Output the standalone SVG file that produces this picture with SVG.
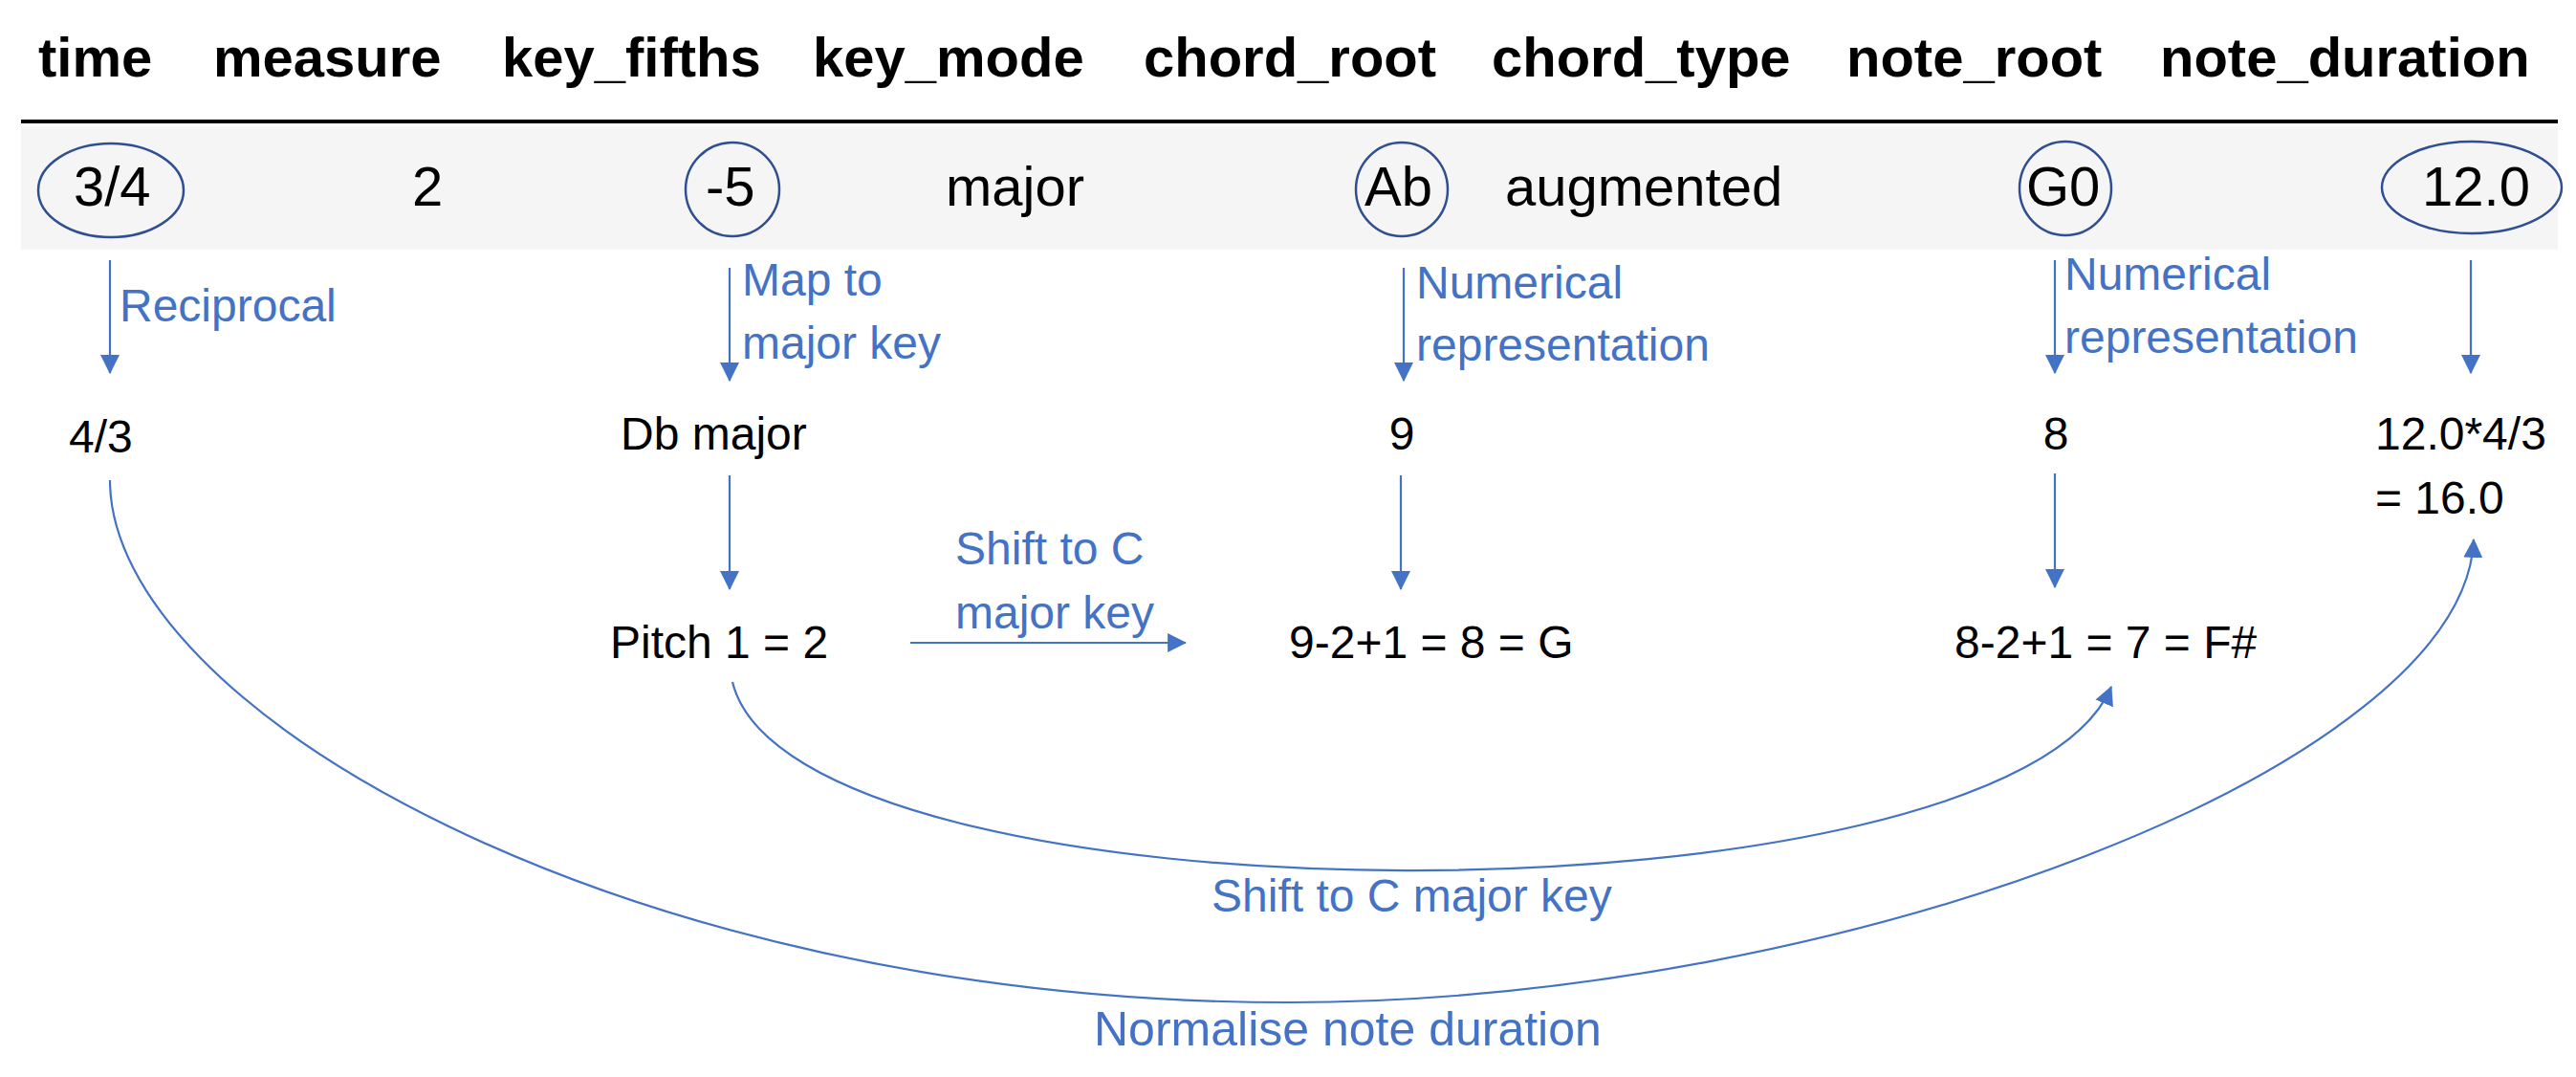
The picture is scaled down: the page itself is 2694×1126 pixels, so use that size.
<svg xmlns="http://www.w3.org/2000/svg" width="2694" height="1126" viewBox="0 0 2694 1126">
  <style>
    .hdr { font-family: "Liberation Sans", Arial, sans-serif; font-size: 58px; font-weight: bold; fill: #000; }
    .val { font-family: "Liberation Sans", Arial, sans-serif; font-size: 58px; fill: #000; }
    .res { font-family: "Liberation Sans", Arial, sans-serif; font-size: 48px; fill: #000; }
    .lbl { font-family: "Liberation Sans", Arial, sans-serif; font-size: 48px; fill: #4472C4; }
    .ring { fill: none; stroke: #2F4F91; stroke-width: 2.5; }
    .conn { fill: none; stroke: #4472C4; stroke-width: 2.2; marker-end: url(#ah); }
  </style>
  <defs>
    <marker id="ah" markerUnits="userSpaceOnUse" markerWidth="20" markerHeight="20" viewBox="0 0 18 18" refX="17" refY="9" orient="auto">
      <path d="M0,0 L18,9 L0,18 z" fill="#4472C4"/>
    </marker>
  </defs>
  <rect width="2694" height="1126" fill="#fff"/>

  <g id="table">
    <rect x="22" y="132" width="2653" height="129" fill="#f5f5f5"/>
    <line x1="22" y1="127" x2="2675" y2="127" stroke="#000" stroke-width="4"/>
    <g id="headers">
      <text class="hdr" x="40" y="80">time</text>
      <text class="hdr" x="223" y="80">measure</text>
      <text class="hdr" x="525" y="80">key_fifths</text>
      <text class="hdr" x="850" y="80">key_mode</text>
      <text class="hdr" x="1196" y="80">chord_root</text>
      <text class="hdr" x="1560" y="80">chord_type</text>
      <text class="hdr" x="1931" y="80">note_root</text>
      <text class="hdr" x="2259" y="80">note_duration</text>
    </g>
    <g id="row">
      <text class="val" x="77" y="215">3/4</text>
      <text class="val" x="431" y="215">2</text>
      <text class="val" x="738" y="215">-5</text>
      <text class="val" x="989" y="215">major</text>
      <text class="val" x="1427" y="215">Ab</text>
      <text class="val" x="1574" y="215">augmented</text>
      <text class="val" x="2119" y="215">G0</text>
      <text class="val" x="2533" y="215">12.0</text>
    </g>
  </g>

  <g id="ring-time"><ellipse class="ring" cx="116" cy="199" rx="76" ry="49"/></g>
  <g id="ring-key-fifths"><ellipse class="ring" cx="766" cy="198" rx="49" ry="49"/></g>
  <g id="ring-chord-root"><ellipse class="ring" cx="1466" cy="198" rx="48" ry="49"/></g>
  <g id="ring-note-root"><ellipse class="ring" cx="2160" cy="197" rx="48" ry="49"/></g>
  <g id="ring-note-duration"><ellipse class="ring" cx="2585" cy="196" rx="94" ry="48"/></g>

  <g id="node-reciprocal"><text class="res" x="72" y="473">4/3</text></g>
  <g id="node-db-major"><text class="res" x="649" y="470">Db major</text></g>
  <g id="node-9"><text class="res" x="1466" y="470" text-anchor="middle">9</text></g>
  <g id="node-8"><text class="res" x="2150" y="470" text-anchor="middle">8</text></g>
  <g id="node-duration"><text class="res" x="2484" y="470">12.0*4/3</text><text class="res" x="2484" y="537">= 16.0</text></g>
  <g id="node-pitch"><text class="res" x="638" y="688">Pitch 1 = 2</text></g>
  <g id="node-g"><text class="res" x="1348" y="688">9-2+1 = 8 = G</text></g>
  <g id="node-fsharp"><text class="res" x="2044" y="688">8-2+1 = 7 = F#</text></g>

  <g id="connectors">
    <line class="conn" x1="115" y1="272" x2="115" y2="390"/>
    <line class="conn" x1="763" y1="280" x2="763" y2="398"/>
    <line class="conn" x1="1468" y1="280" x2="1468" y2="398"/>
    <line class="conn" x1="2149" y1="272" x2="2149" y2="390"/>
    <line class="conn" x1="2584" y1="272" x2="2584" y2="390"/>
    <line class="conn" x1="763" y1="497" x2="763" y2="616"/>
    <line class="conn" x1="1465" y1="497" x2="1465" y2="616"/>
    <line class="conn" x1="2149" y1="495" x2="2149" y2="614"/>
    <line class="conn" x1="952" y1="672" x2="1240" y2="672"/>
    <path class="conn" d="M766,713 C830,975 2100,975 2208,718"/>
    <path class="conn" d="M115,502 C115,740 650,1048 1348,1048 C1930,1048 2578,800 2587,564"/>
  </g>

  <g id="labels">
    <text class="lbl" x="125" y="336">Reciprocal</text>
    <text class="lbl" x="776" y="309">Map to</text>
    <text class="lbl" x="776" y="375">major key</text>
    <text class="lbl" x="1481" y="312">Numerical</text>
    <text class="lbl" x="1481" y="377">representation</text>
    <text class="lbl" x="2159" y="303">Numerical</text>
    <text class="lbl" x="2159" y="369">representation</text>
    <text class="lbl" x="999" y="590">Shift to C</text>
    <text class="lbl" x="999" y="657">major key</text>
    <text class="lbl" x="1267" y="953">Shift to C major key</text>
    <text class="lbl" x="1144" y="1093" style="font-size:50px">Normalise note duration</text>
  </g>
</svg>
